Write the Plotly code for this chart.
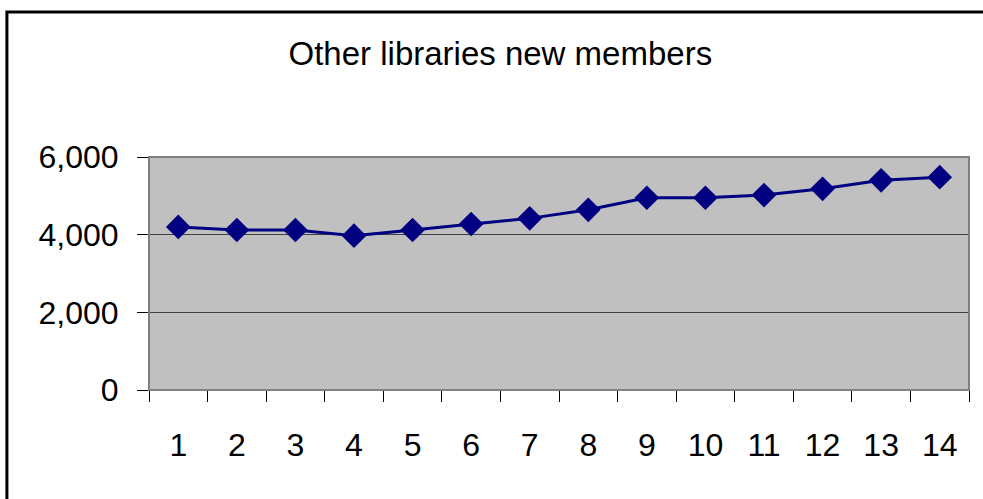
import plotly.graph_objects as go

# Monthly counts of new members at other libraries
periods = list(range(1, 15))
new_members = [4200, 4120, 4120, 3975, 4120, 4275, 4420, 4640, 4950, 4950, 5020, 5180, 5400, 5480]
y_ticks = [0, 2000, 4000, 6000]
chart_title = "Other libraries new members"

FONT = "Liberation Sans, Arial, sans-serif"

fig = go.Figure(
    go.Scatter(
        x=periods,
        y=new_members,
        mode="lines+markers",
        line=dict(color="#000080", width=3),
        marker=dict(symbol="diamond", size=19, color="#000080"),
        hoverinfo="x+y",
    )
)

fig.update_layout(
    width=983,
    height=499,
    margin=dict(l=149, r=14, t=157, b=109),
    paper_bgcolor="white",
    plot_bgcolor="#C0C0C0",
    showlegend=False,
    title=dict(
        text=chart_title,
        x=0.509,
        xanchor="center",
        y=1 - 53 / 499,
        yanchor="middle",
        font=dict(family=FONT, size=33, color="black"),
    ),
    font=dict(family=FONT, size=32, color="black"),
    xaxis=dict(
        range=[0.5, 14.5],
        tickvals=periods,
        ticktext=[str(p) for p in periods],
        ticks="",
        showgrid=False,
        zeroline=False,
        showline=True,
        linecolor="black",
        linewidth=1,
        ticklabelstandoff=27,
        minor=dict(
            ticks="outside",
            tick0=0.5,
            dtick=1,
            ticklen=11,
            tickcolor="black",
            tickwidth=1,
            showgrid=False,
        ),
        tickfont=dict(family=FONT, size=32, color="black"),
    ),
    yaxis=dict(
        range=[0, 6000],
        tickvals=y_ticks,
        tickformat=",",
        ticks="outside",
        ticklen=11,
        tickcolor="black",
        showgrid=True,
        gridcolor="#404040",
        gridwidth=1,
        zeroline=False,
        showline=True,
        linecolor="black",
        linewidth=1,
        ticklabelstandoff=12,
        tickfont=dict(family=FONT, size=32, color="black"),
    ),
    shapes=[
        # grey border around the plotting area
        dict(type="rect", xref="paper", yref="paper", x0=0, x1=1, y0=0, y1=1,
             line=dict(color="#808080", width=2), layer="above"),
        # outer chart frame
        dict(type="rect", xref="paper", yref="paper",
             x0=(7 - 149) / 819.5, x1=1.2, y0=-1.0, y1=(390 - 12) / 233,
             line=dict(color="black", width=3)),
    ],
)

fig.write_html("out.html")
